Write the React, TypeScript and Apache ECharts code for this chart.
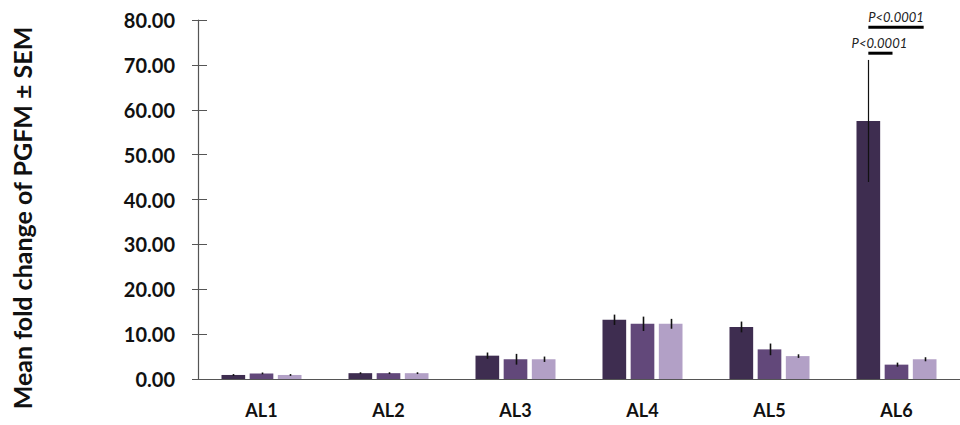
import React, { useEffect, useRef } from "react";
import * as echarts from "echarts";

const categories = ["AL1", "AL2", "AL3", "AL4", "AL5", "AL6"];
const series1 = [0.9, 1.3, 5.2, 13.2, 11.6, 57.5];
const series2 = [1.25, 1.3, 4.4, 12.3, 6.6, 3.2];
const series3 = [0.9, 1.3, 4.4, 12.3, 5.1, 4.4];
const err1 = [0.2, 0.2, 0.7, 1.15, 1.2, 13.6];
const err2 = [0.2, 0.2, 1.2, 1.6, 1.3, 0.45];
const err3 = [0.2, 0.2, 0.6, 1.1, 0.4, 0.45];
const yTicks = [0, 10, 20, 30, 40, 50, 60, 70, 80];
const sigLabel = "P<0.0001";
const yName = "Mean fold change of PGFM ± SEM";

const colors = ["#3e2d50", "#62487a", "#b2a0c6"];
const CAT_GAP = 0.37;
const BAR_GAP = 0.19;
const FONT = "Lato";

function barOffset(bandWidth: number, idx: number) {
  const bw = (bandWidth * (1 - CAT_GAP)) / (3 + 2 * BAR_GAP);
  return (idx - 1) * bw * (1 + BAR_GAP);
}

export default function App() {
  const ref = useRef<HTMLDivElement>(null);
  useEffect(() => {
    document.body.style.margin = "0";
    if (!ref.current) return;
    const chart = echarts.init(ref.current, undefined, { renderer: "svg" });
    const vals = [series1, series2, series3];
    const errs = [err1, err2, err3];

    const errSeries = [0, 1, 2].map((si) => ({
      type: "custom",
      xAxisIndex: 0,
      yAxisIndex: 0,
      z: 10,
      clip: false,
      data: categories.map((_, i) => [i, vals[si][i], errs[si][i]]),
      renderItem: (params: any, api: any) => {
        const x = api.value(0);
        const v = api.value(1);
        const e = api.value(2);
        const band = api.size([1, 0])[0];
        const off = barOffset(band, si);
        const p1 = api.coord([x, v + e]);
        const p2 = api.coord([x, v - e]);
        const cx = Math.round(p1[0] + off) + 0.5;
        return {
          type: "line",
          shape: { x1: cx, y1: p1[1], x2: cx, y2: p2[1] },
          style: { stroke: "#111", lineWidth: si === 0 && x === 5 ? 1.2 : 1.6 },
        };
      },
    }));

    const textStyle = (t: string, x: number, y: number) => ({
      type: "text",
      x,
      y,
      style: {
        text: t,
        fontFamily: FONT,
        fontStyle: "italic",
        fontSize: 13,
        fill: "#222",
        align: "center",
        verticalAlign: "bottom",
      },
    });

    const sigSeries = {
      type: "custom",
      z: 11,
      clip: false,
      data: [[5]],
      renderItem: (params: any, api: any) => {
        const band = api.size([1, 0])[0];
        const c = api.coord([5, 78.4]);
        const cLow = api.coord([5, 72.6]);
        const x1 = c[0] + barOffset(band, 0);
        const x2 = c[0] + barOffset(band, 1) - 4;
        const x3 = c[0] + barOffset(band, 2) - 1;
        return {
          type: "group",
          children: [
            {
              type: "line",
              shape: { x1: x1, y1: c[1], x2: x3, y2: c[1] },
              style: { stroke: "#000", lineWidth: 3 },
            },
            textStyle(sigLabel, (x1 + x3) / 2, c[1] - 4),
            {
              type: "line",
              shape: { x1: x1, y1: cLow[1], x2: x2, y2: cLow[1] },
              style: { stroke: "#000", lineWidth: 3 },
            },
            textStyle(sigLabel, (x1 + x2) / 2 - 1, cLow[1] - 4),
          ],
        };
      },
    };

    chart.setOption({
      animation: false,
      grid: { left: 198, right: -8, top: 20, bottom: 46, containLabel: false },
      xAxis: {
        type: "category",
        data: categories,
        axisLine: { show: true, lineStyle: { color: "#555", width: 1.2 } },
        axisTick: { show: false },
        axisLabel: {
          margin: 22,
          fontFamily: FONT,
          fontWeight: "bold",
          fontSize: 18,
          color: "#111",
        },
      },
      yAxis: [
        {
          type: "value",
          min: yTicks[0],
          max: yTicks[yTicks.length - 1],
          interval: 10,
          axisLine: { show: true, lineStyle: { color: "#555", width: 1.2 } },
          axisTick: { show: true, length: 6, lineStyle: { color: "#555" } },
          splitLine: { show: false },
          axisLabel: {
            margin: 23,
            fontFamily: FONT,
            fontWeight: "bold",
            fontSize: 20,
            color: "#111",
            formatter: (v: number) => v.toFixed(2),
          },
        },
        {
          type: "value",
          position: "left",
          min: yTicks[0],
          max: yTicks[yTicks.length - 1],
          interval: 10,
          axisLine: { show: false },
          axisTick: { show: true, inside: true, length: 9, lineStyle: { color: "#555" } },
          splitLine: { show: false },
          axisLabel: { show: false },
        },
      ],
      series: [
        ...[0, 1, 2].map((si) => ({
          type: "bar",
          data: vals[si],
          barGap: BAR_GAP * 100 + "%",
          barCategoryGap: CAT_GAP * 100 + "%",
          itemStyle: { color: colors[si] },
        })),
        ...errSeries,
        sigSeries,
      ],
      graphic: [
        {
          type: "text",
          x: 22,
          y: 218,
          rotation: Math.PI / 2,
          style: {
            text: yName,
            fontFamily: FONT,
            fontWeight: "bold",
            fontSize: 25,
            fill: "#111",
            align: "center",
            verticalAlign: "middle",
          },
        },
      ],
    });
    return () => chart.dispose();
  }, []);
  return <div ref={ref} style={{ width: 960, height: 425 }} />;
}
